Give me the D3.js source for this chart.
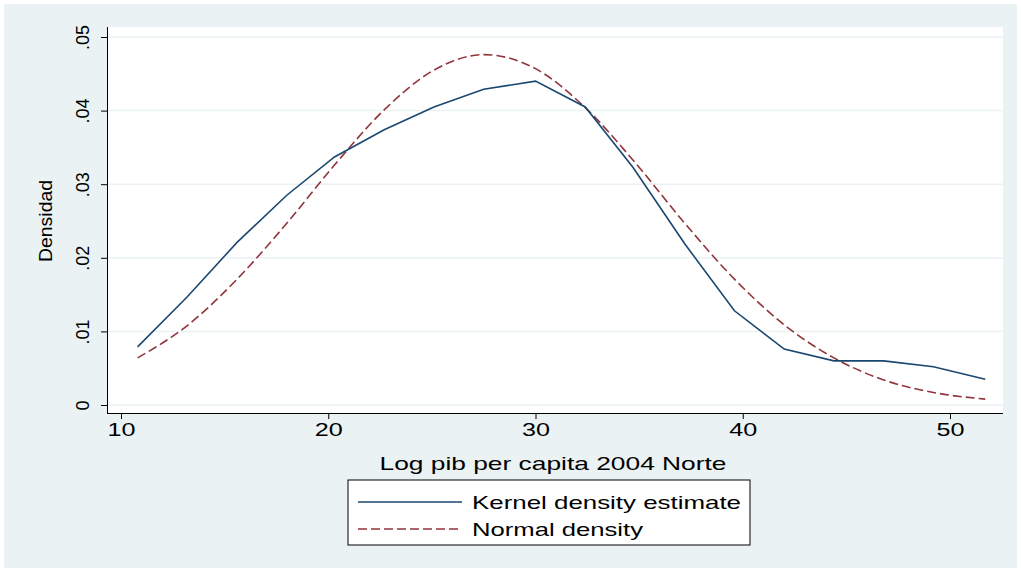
<!DOCTYPE html>
<html>
<head>
<meta charset="utf-8">
<script src="https://d3js.org/d3.v7.min.js"></script>
<style>
  body { margin: 0; background: #fff; }
  text { font-family: "Liberation Sans", Arial, sans-serif; }
</style>
</head>
<body>
<svg id="chart" width="1021" height="572"></svg>
<script>
// values
var xs = [10.8, 13.2, 15.6, 18.0, 20.3, 22.7, 25.1, 27.5, 30.0, 32.4, 34.7, 37.2, 39.6, 42.0, 44.4, 46.8, 49.2, 51.7];
var kernel = [.0079, .0147, .0221, .0285, .0337, .0374, .0405, .0429, .0440, .0405, .0323, .0219, .0128, .0076, .0060, .0060, .0052, .0035];
var normal = [.0064, .0108, .0171, .0247, .0326, .0401, .0455, .0476, .0457, .0404, .0333, .0247, .0171, .0109, .0064, .0034, .0017, .0008];
var xTicks = [10, 20, 30, 40, 50];
var yTicks = [0, .01, .02, .03, .04, .05];
var yLabels = ["0", ".01", ".02", ".03", ".04", ".05"];

var svg = d3.select('#chart')
svg.append('rect').attr('x', 0).attr('y', 0).attr('width', 1021).attr('height', 572).attr('fill', '#fff')
svg.append('rect').attr('x', 4).attr('y', 4).attr('width', 1013).attr('height', 564).attr('fill', '#eaf2f3')
svg.append('rect').attr('x', 107).attr('y', 27).attr('width', 896).attr('height', 386).attr('fill', '#fff')

var x = d3.scaleLinear().domain([10, 50]).range([121, 950])
var y = d3.scaleLinear().domain([0, .05]).range([405, 37])

// grid
svg.selectAll('.grid').data(yTicks).enter().append('line')
  .attr('x1', 107).attr('x2', 1003)
  .attr('y1', d => y(d)).attr('y2', d => y(d))
  .attr('stroke', '#eaf2f3').attr('stroke-width', 1.5)

var xAxis = svg.append('g').attr('transform', 'translate(0,413)')
  .call(d3.axisBottom(x).tickValues(xTicks).tickSize(6).tickPadding(4))
xAxis.select('.domain').attr('d', 'M107,0.5H1003')
xAxis.selectAll('text').attr('font-size', 18).attr('fill', '#000')
  .attr('textLength', 28).attr('lengthAdjust', 'spacingAndGlyphs')

var yAxis = svg.append('g').attr('transform', 'translate(107,0)')
  .call(d3.axisLeft(y).tickValues(yTicks).tickFormat((d, i) => yLabels[i]).tickSize(6))
yAxis.select('.domain').attr('d', 'M0.5,27V413')
yAxis.selectAll('text').attr('font-size', 18).attr('fill', '#000')
  .attr('text-anchor', 'middle').attr('x', 0).attr('dy', 0)
  .attr('transform', 'translate(-18,0) rotate(-90)')

svg.append('text').attr('x', 553).attr('y', 470).attr('text-anchor', 'middle')
  .attr('font-size', 19).attr('textLength', 347).attr('lengthAdjust', 'spacingAndGlyphs')
  .text('Log pib per capita 2004 Norte')
svg.append('text').attr('transform', 'translate(52,221) rotate(-90)').attr('text-anchor', 'middle')
  .attr('font-size', 18).attr('textLength', 82).attr('lengthAdjust', 'spacingAndGlyphs').text('Densidad')

var line = d3.line().x((d, i) => x(xs[i])).y(d => y(d)).curve(d3.curveLinear)
var lineN = d3.line().x((d, i) => x(xs[i])).y(d => y(d)).curve(d3.curveMonotoneX)
svg.append('path').attr('d', lineN(normal)).attr('fill', 'none')
  .attr('stroke', '#90353b').attr('stroke-width', 1.6).attr('stroke-dasharray', '9,4')
svg.append('path').attr('d', line(kernel)).attr('fill', 'none')
  .attr('stroke', '#1a476f').attr('stroke-width', 1.6)

// legend
var lg = svg.append('g')
lg.append('rect').attr('x', 348).attr('y', 480).attr('width', 402).attr('height', 65)
  .attr('fill', '#fff').attr('stroke', '#000').attr('stroke-width', 1)
var items = [{label: 'Kernel density estimate', color: '#1a476f', dash: null, w: 269},
             {label: 'Normal density', color: '#90353b', dash: '9,4', w: 171}]
items.forEach(function (d, i) {
  var yy = 502 + i * 27
  lg.append('line').attr('x1', 358).attr('x2', 462).attr('y1', yy).attr('y2', yy)
    .attr('stroke', d.color).attr('stroke-width', 1.6).attr('stroke-dasharray', d.dash)
  lg.append('text').attr('x', 472).attr('y', yy + 7).attr('font-size', 19)
    .attr('textLength', d.w).attr('lengthAdjust', 'spacingAndGlyphs').text(d.label)
})
</script>
</body>
</html>
